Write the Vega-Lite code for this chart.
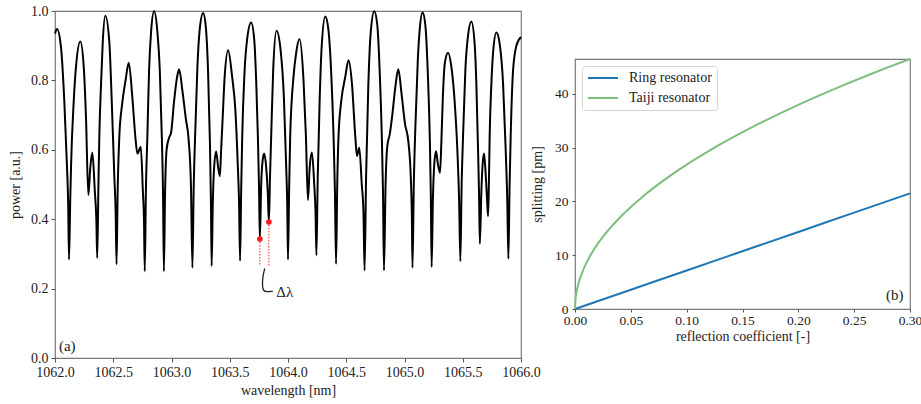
{
  "$schema": "https://vega.github.io/schema/vega-lite/v6.json",
  "padding": {"left": 7, "top": 3, "right": 0, "bottom": 0},
  "config": {
    "font": "Liberation Serif, Times New Roman, DejaVu Serif, serif",
    "view": {"stroke": "#7a7a7a", "strokeWidth": 1.2},
    "axis": {"grid": false, "domain": false, "tickColor": "#555", "tickSize": 4, "labelFontSize": 14, "titleFontSize": 14, "labelColor": "#222", "titleColor": "#222", "titleFontWeight": "normal", "labelFont": "Liberation Serif, Times New Roman, DejaVu Serif, serif", "titleFont": "Liberation Serif, Times New Roman, DejaVu Serif, serif", "labelPadding": 3},
    "legend": {"labelFont": "Liberation Serif, Times New Roman, DejaVu Serif, serif"},
    "text": {"font": "Liberation Serif, Times New Roman, DejaVu Serif, serif"}
  },
  "datasets": {
    "spectrum": [
      {"wl": 1062.0000, "p": 0.935}, {"wl": 1062.0172, "p": 0.948}, {"wl": 1062.0515, "p": 0.895}, {"wl": 1062.0799, "p": 0.74}, {"wl": 1062.1031, "p": 0.55}, {"wl": 1062.1134, "p": 0.44}, {"wl": 1062.1203, "p": 0.284}, {"wl": 1062.1306, "p": 0.45}, {"wl": 1062.1375, "p": 0.55}, {"wl": 1062.1607, "p": 0.74}, {"wl": 1062.1804, "p": 0.84}, {"wl": 1062.2174, "p": 0.912},
      {"wl": 1062.2466, "p": 0.84}, {"wl": 1062.2663, "p": 0.69}, {"wl": 1062.2861, "p": 0.47}, {"wl": 1062.3033, "p": 0.55}, {"wl": 1062.3204, "p": 0.592}, {"wl": 1062.3419, "p": 0.48}, {"wl": 1062.3548, "p": 0.40}, {"wl": 1062.3625, "p": 0.288}, {"wl": 1062.3729, "p": 0.50}, {"wl": 1062.3806, "p": 0.64}, {"wl": 1062.3952, "p": 0.79}, {"wl": 1062.4098, "p": 0.91}, {"wl": 1062.4321, "p": 0.986},
      {"wl": 1062.4665, "p": 0.91}, {"wl": 1062.4871, "p": 0.74}, {"wl": 1062.5095, "p": 0.52}, {"wl": 1062.5206, "p": 0.42}, {"wl": 1062.5284, "p": 0.27}, {"wl": 1062.5378, "p": 0.48}, {"wl": 1062.5524, "p": 0.64}, {"wl": 1062.5756, "p": 0.73}, {"wl": 1062.6057, "p": 0.80}, {"wl": 1062.6332, "p": 0.851},
      {"wl": 1062.6641, "p": 0.75}, {"wl": 1062.6916, "p": 0.63}, {"wl": 1062.7070, "p": 0.589}, {"wl": 1062.7363, "p": 0.608}, {"wl": 1062.7543, "p": 0.48}, {"wl": 1062.7637, "p": 0.40}, {"wl": 1062.7706, "p": 0.25}, {"wl": 1062.7801, "p": 0.48}, {"wl": 1062.7929, "p": 0.64}, {"wl": 1062.8076, "p": 0.83}, {"wl": 1062.8247, "p": 0.94}, {"wl": 1062.8505, "p": 0.999},
      {"wl": 1062.8789, "p": 0.94}, {"wl": 1062.8995, "p": 0.83}, {"wl": 1062.9167, "p": 0.64}, {"wl": 1062.9270, "p": 0.48}, {"wl": 1062.9347, "p": 0.25}, {"wl": 1062.9450, "p": 0.48}, {"wl": 1062.9579, "p": 0.60}, {"wl": 1062.9794, "p": 0.635}, {"wl": 1062.9966, "p": 0.65}, {"wl": 1063.0223, "p": 0.74}, {"wl": 1063.0481, "p": 0.81}, {"wl": 1063.0653, "p": 0.832},
      {"wl": 1063.0937, "p": 0.77}, {"wl": 1063.1229, "p": 0.69}, {"wl": 1063.1469, "p": 0.63}, {"wl": 1063.1667, "p": 0.50}, {"wl": 1063.1796, "p": 0.26}, {"wl": 1063.1899, "p": 0.48}, {"wl": 1063.2027, "p": 0.64}, {"wl": 1063.2225, "p": 0.84}, {"wl": 1063.2431, "p": 0.95}, {"wl": 1063.2715, "p": 0.994},
      {"wl": 1063.2930, "p": 0.96}, {"wl": 1063.3144, "p": 0.82}, {"wl": 1063.3299, "p": 0.62}, {"wl": 1063.3385, "p": 0.45}, {"wl": 1063.3445, "p": 0.265}, {"wl": 1063.3548, "p": 0.45}, {"wl": 1063.3660, "p": 0.55}, {"wl": 1063.3832, "p": 0.595}, {"wl": 1063.4003, "p": 0.55}, {"wl": 1063.4149, "p": 0.524}, {"wl": 1063.4261, "p": 0.60}, {"wl": 1063.4390, "p": 0.69}, {"wl": 1063.4562, "p": 0.81}, {"wl": 1063.4863, "p": 0.887},
      {"wl": 1063.5206, "p": 0.81}, {"wl": 1063.5490, "p": 0.71}, {"wl": 1063.5696, "p": 0.55}, {"wl": 1063.5799, "p": 0.45}, {"wl": 1063.5885, "p": 0.28}, {"wl": 1063.5979, "p": 0.48}, {"wl": 1063.6065, "p": 0.63}, {"wl": 1063.6263, "p": 0.82}, {"wl": 1063.6495, "p": 0.92}, {"wl": 1063.6838, "p": 0.967},
      {"wl": 1063.7096, "p": 0.92}, {"wl": 1063.7268, "p": 0.80}, {"wl": 1063.7414, "p": 0.64}, {"wl": 1063.7509, "p": 0.50}, {"wl": 1063.7586, "p": 0.343}, {"wl": 1063.7698, "p": 0.50}, {"wl": 1063.7826, "p": 0.57}, {"wl": 1063.7955, "p": 0.589}, {"wl": 1063.8127, "p": 0.55}, {"wl": 1063.8273, "p": 0.47}, {"wl": 1063.8359, "p": 0.392}, {"wl": 1063.8454, "p": 0.52}, {"wl": 1063.8557, "p": 0.64}, {"wl": 1063.8729, "p": 0.83}, {"wl": 1063.9012, "p": 0.943},
      {"wl": 1063.9356, "p": 0.89}, {"wl": 1063.9648, "p": 0.75}, {"wl": 1063.9845, "p": 0.55}, {"wl": 1063.9931, "p": 0.45}, {"wl": 1064.0000, "p": 0.284}, {"wl": 1064.0103, "p": 0.50}, {"wl": 1064.0189, "p": 0.64}, {"wl": 1064.0472, "p": 0.81}, {"wl": 1064.0704, "p": 0.88}, {"wl": 1064.0988, "p": 0.919},
      {"wl": 1064.1332, "p": 0.80}, {"wl": 1064.1538, "p": 0.64}, {"wl": 1064.1710, "p": 0.455}, {"wl": 1064.1864, "p": 0.55}, {"wl": 1064.2053, "p": 0.592}, {"wl": 1064.2251, "p": 0.50}, {"wl": 1064.2363, "p": 0.42}, {"wl": 1064.2440, "p": 0.296}, {"wl": 1064.2552, "p": 0.52}, {"wl": 1064.2723, "p": 0.75}, {"wl": 1064.2895, "p": 0.90}, {"wl": 1064.3196, "p": 0.984},
      {"wl": 1064.3454, "p": 0.95}, {"wl": 1064.3711, "p": 0.82}, {"wl": 1064.3909, "p": 0.64}, {"wl": 1064.4029, "p": 0.48}, {"wl": 1064.4124, "p": 0.271}, {"wl": 1064.4227, "p": 0.50}, {"wl": 1064.4338, "p": 0.64}, {"wl": 1064.4570, "p": 0.74}, {"wl": 1064.4914, "p": 0.81}, {"wl": 1064.5198, "p": 0.858},
      {"wl": 1064.5490, "p": 0.79}, {"wl": 1064.5773, "p": 0.64}, {"wl": 1064.5919, "p": 0.582}, {"wl": 1064.6117, "p": 0.606}, {"wl": 1064.6332, "p": 0.50}, {"wl": 1064.6478, "p": 0.42}, {"wl": 1064.6572, "p": 0.252}, {"wl": 1064.6701, "p": 0.52}, {"wl": 1064.6890, "p": 0.78}, {"wl": 1064.7105, "p": 0.94}, {"wl": 1064.7405, "p": 0.999},
      {"wl": 1064.7663, "p": 0.96}, {"wl": 1064.7878, "p": 0.82}, {"wl": 1064.8050, "p": 0.64}, {"wl": 1064.8153, "p": 0.48}, {"wl": 1064.8239, "p": 0.252}, {"wl": 1064.8376, "p": 0.50}, {"wl": 1064.8522, "p": 0.61}, {"wl": 1064.8737, "p": 0.645}, {"wl": 1064.8952, "p": 0.70}, {"wl": 1064.9210, "p": 0.78}, {"wl": 1064.9467, "p": 0.832},
      {"wl": 1064.9751, "p": 0.76}, {"wl": 1065.0043, "p": 0.675}, {"wl": 1065.0326, "p": 0.625}, {"wl": 1065.0541, "p": 0.52}, {"wl": 1065.0627, "p": 0.42}, {"wl": 1065.0687, "p": 0.26}, {"wl": 1065.0799, "p": 0.50}, {"wl": 1065.0928, "p": 0.66}, {"wl": 1065.1143, "p": 0.86}, {"wl": 1065.1314, "p": 0.95}, {"wl": 1065.1555, "p": 0.996},
      {"wl": 1065.1787, "p": 0.96}, {"wl": 1065.2002, "p": 0.82}, {"wl": 1065.2174, "p": 0.63}, {"wl": 1065.2260, "p": 0.47}, {"wl": 1065.2328, "p": 0.262}, {"wl": 1065.2440, "p": 0.46}, {"wl": 1065.2560, "p": 0.56}, {"wl": 1065.2706, "p": 0.596}, {"wl": 1065.2861, "p": 0.56}, {"wl": 1065.3050, "p": 0.534}, {"wl": 1065.3162, "p": 0.62}, {"wl": 1065.3290, "p": 0.75}, {"wl": 1065.3462, "p": 0.85}, {"wl": 1065.3737, "p": 0.88},
      {"wl": 1065.4021, "p": 0.84}, {"wl": 1065.4304, "p": 0.74}, {"wl": 1065.4536, "p": 0.60}, {"wl": 1065.4691, "p": 0.45}, {"wl": 1065.4794, "p": 0.279}, {"wl": 1065.4905, "p": 0.50}, {"wl": 1065.5026, "p": 0.64}, {"wl": 1065.5223, "p": 0.83}, {"wl": 1065.5455, "p": 0.93}, {"wl": 1065.5739, "p": 0.97},
      {"wl": 1065.6022, "p": 0.905}, {"wl": 1065.6168, "p": 0.79}, {"wl": 1065.6314, "p": 0.60}, {"wl": 1065.6400, "p": 0.47}, {"wl": 1065.6469, "p": 0.329}, {"wl": 1065.6598, "p": 0.48}, {"wl": 1065.6710, "p": 0.56}, {"wl": 1065.6830, "p": 0.589}, {"wl": 1065.6985, "p": 0.52}, {"wl": 1065.7096, "p": 0.45}, {"wl": 1065.7174, "p": 0.409}, {"wl": 1065.7242, "p": 0.50}, {"wl": 1065.7311, "p": 0.64}, {"wl": 1065.7457, "p": 0.79}, {"wl": 1065.7603, "p": 0.88}, {"wl": 1065.7887, "p": 0.938},
      {"wl": 1065.8170, "p": 0.905}, {"wl": 1065.8462, "p": 0.79}, {"wl": 1065.8686, "p": 0.60}, {"wl": 1065.8823, "p": 0.45}, {"wl": 1065.8918, "p": 0.286}, {"wl": 1065.9021, "p": 0.50}, {"wl": 1065.9115, "p": 0.64}, {"wl": 1065.9321, "p": 0.83}, {"wl": 1065.9605, "p": 0.90}, {"wl": 1066.0000, "p": 0.925}
    ],
    "split_marks": [
      {"wl": 1063.7586, "p": 0.343, "base": 0.265},
      {"wl": 1063.8359, "p": 0.392, "base": 0.265}
    ],
    "bracket": [
      {"i": 1, "wl": 1063.800, "p": 0.258},
      {"i": 2, "wl": 1063.783, "p": 0.235},
      {"i": 3, "wl": 1063.779, "p": 0.205},
      {"i": 4, "wl": 1063.790, "p": 0.193},
      {"i": 5, "wl": 1063.815, "p": 0.191},
      {"i": 6, "wl": 1063.870, "p": 0.192}
    ],
    "notes_a": [
      {"wl": 1063.899, "p": 0.19, "label": "Δλ"},
      {"wl": 1062.034, "p": 0.034, "label": "(a)"}
    ],
    "splitting": [
      {"r": 0.00, "s": 0.0, "type": "Ring resonator"},
      {"r": 0.05, "s": 3.58, "type": "Ring resonator"},
      {"r": 0.10, "s": 7.17, "type": "Ring resonator"},
      {"r": 0.15, "s": 10.75, "type": "Ring resonator"},
      {"r": 0.20, "s": 14.33, "type": "Ring resonator"},
      {"r": 0.25, "s": 17.92, "type": "Ring resonator"},
      {"r": 0.30, "s": 21.5, "type": "Ring resonator"},
      {"r": 0.0, "s": 0.0, "type": "Taiji resonator"},
      {"r": 0.0005, "s": 1.90, "type": "Taiji resonator"},
      {"r": 0.001, "s": 2.69, "type": "Taiji resonator"},
      {"r": 0.002, "s": 3.80, "type": "Taiji resonator"},
      {"r": 0.004, "s": 5.37, "type": "Taiji resonator"},
      {"r": 0.007, "s": 7.10, "type": "Taiji resonator"},
      {"r": 0.01, "s": 8.49, "type": "Taiji resonator"},
      {"r": 0.015, "s": 10.40, "type": "Taiji resonator"},
      {"r": 0.02, "s": 12.01, "type": "Taiji resonator"},
      {"r": 0.03, "s": 14.70, "type": "Taiji resonator"},
      {"r": 0.04, "s": 16.98, "type": "Taiji resonator"},
      {"r": 0.05, "s": 18.98, "type": "Taiji resonator"},
      {"r": 0.06, "s": 20.80, "type": "Taiji resonator"},
      {"r": 0.08, "s": 24.01, "type": "Taiji resonator"},
      {"r": 0.10, "s": 26.85, "type": "Taiji resonator"},
      {"r": 0.12, "s": 29.41, "type": "Taiji resonator"},
      {"r": 0.14, "s": 31.77, "type": "Taiji resonator"},
      {"r": 0.16, "s": 33.96, "type": "Taiji resonator"},
      {"r": 0.18, "s": 36.02, "type": "Taiji resonator"},
      {"r": 0.20, "s": 37.97, "type": "Taiji resonator"},
      {"r": 0.22, "s": 39.82, "type": "Taiji resonator"},
      {"r": 0.24, "s": 41.59, "type": "Taiji resonator"},
      {"r": 0.26, "s": 43.29, "type": "Taiji resonator"},
      {"r": 0.28, "s": 44.93, "type": "Taiji resonator"},
      {"r": 0.30, "s": 46.50, "type": "Taiji resonator"}
    ],
    "notes_b": [
      {"r": 0.2941, "s": 2.66, "label": "(b)"}
    ],
    "blank": [
      {"t": ""}
    ]
  },
  "spacing": -12,
  "resolve": {"scale": {"color": "independent"}, "legend": {"color": "independent"}},
  "hconcat": [
    {
      "width": 466,
      "height": 347,
      "layer": [
        {
          "data": {"name": "spectrum"},
          "mark": {"type": "line", "color": "black", "strokeWidth": 2, "interpolate": "monotone"},
          "encoding": {
            "x": {"field": "wl", "type": "quantitative", "scale": {"domain": [1062, 1066], "nice": false, "zero": false}, "axis": {"values": [1062, 1062.5, 1063, 1063.5, 1064, 1064.5, 1065, 1065.5, 1066], "format": ".1f", "labelFlush": false, "title": "wavelength [nm]", "titlePadding": 4}},
            "y": {"field": "p", "type": "quantitative", "scale": {"domain": [0, 1], "nice": false}, "axis": {"values": [0, 0.2, 0.4, 0.6, 0.8, 1.0], "format": ".1f", "title": "power [a.u.]", "titlePadding": 8}}
          }
        },
        {
          "data": {"name": "split_marks"},
          "mark": {"type": "rule", "color": "#ff2020", "strokeDash": [1.5, 1.5], "strokeWidth": 1},
          "encoding": {
            "x": {"field": "wl", "type": "quantitative"},
            "y": {"field": "p", "type": "quantitative"},
            "y2": {"field": "base"}
          }
        },
        {
          "data": {"name": "split_marks"},
          "mark": {"type": "point", "filled": true, "color": "#ff1a1a", "size": 32, "opacity": 1},
          "encoding": {
            "x": {"field": "wl", "type": "quantitative"},
            "y": {"field": "p", "type": "quantitative"}
          }
        },
        {
          "data": {"name": "bracket"},
          "mark": {"type": "line", "color": "#222", "strokeWidth": 1.3, "interpolate": "basis"},
          "encoding": {
            "x": {"field": "wl", "type": "quantitative"},
            "y": {"field": "p", "type": "quantitative"},
            "order": {"field": "i", "type": "quantitative"}
          }
        },
        {
          "data": {"name": "notes_a"},
          "mark": {"type": "text", "align": "left", "baseline": "middle", "fontSize": 15, "color": "#222"},
          "encoding": {
            "x": {"field": "wl", "type": "quantitative"},
            "y": {"field": "p", "type": "quantitative"},
            "text": {"field": "label"}
          }
        }
      ]
    },
    {
      "spacing": 0,
      "resolve": {"scale": {"color": "independent"}, "legend": {"color": "independent"}},
      "vconcat": [
        {
          "width": 335,
          "height": 43,
          "view": {"stroke": null},
          "data": {"name": "blank"},
          "mark": {"type": "text"},
          "encoding": {"text": {"field": "t"}}
        },
        {
          "width": 335,
          "height": 250,
          "layer": [
            {
              "data": {"name": "splitting"},
              "mark": {"type": "line", "strokeWidth": 2, "interpolate": "monotone"},
              "encoding": {
                "x": {"field": "r", "type": "quantitative", "scale": {"domain": [0, 0.3], "nice": false}, "axis": {"values": [0, 0.05, 0.1, 0.15, 0.2, 0.25, 0.3], "format": ".2f", "labelFlush": false, "title": "reflection coefficient [-]", "tickSize": 3, "labelPadding": 1, "titlePadding": 3, "labelFontSize": 13.5}},
                "y": {"field": "s", "type": "quantitative", "scale": {"domain": [0, 46.5], "nice": false}, "axis": {"values": [0, 10, 20, 30, 40], "title": "splitting [pm]", "tickSize": 3, "labelPadding": 4, "titlePadding": 10, "labelFontSize": 13.5}},
                "color": {
                  "field": "type", "type": "nominal",
                  "scale": {"domain": ["Ring resonator", "Taiji resonator"], "range": ["#1f77b4", "#7dbe7d"]},
                  "legend": {"title": null, "orient": "top-left", "offset": 7, "symbolType": "stroke", "symbolSize": 900, "symbolStrokeWidth": 2, "clipHeight": 14, "rowPadding": 6, "padding": 5, "labelOffset": 10, "labelFontSize": 14, "labelColor": "#222", "fillColor": "white", "strokeColor": "#d4d4d4", "cornerRadius": 3}
                }
              }
            },
            {
              "data": {"name": "notes_b"},
              "mark": {"type": "text", "align": "right", "baseline": "middle", "fontSize": 15, "color": "#222"},
              "encoding": {
                "x": {"field": "r", "type": "quantitative"},
                "y": {"field": "s", "type": "quantitative"},
                "text": {"field": "label"}
              }
            }
          ]
        }
      ]
    }
  ]
}
